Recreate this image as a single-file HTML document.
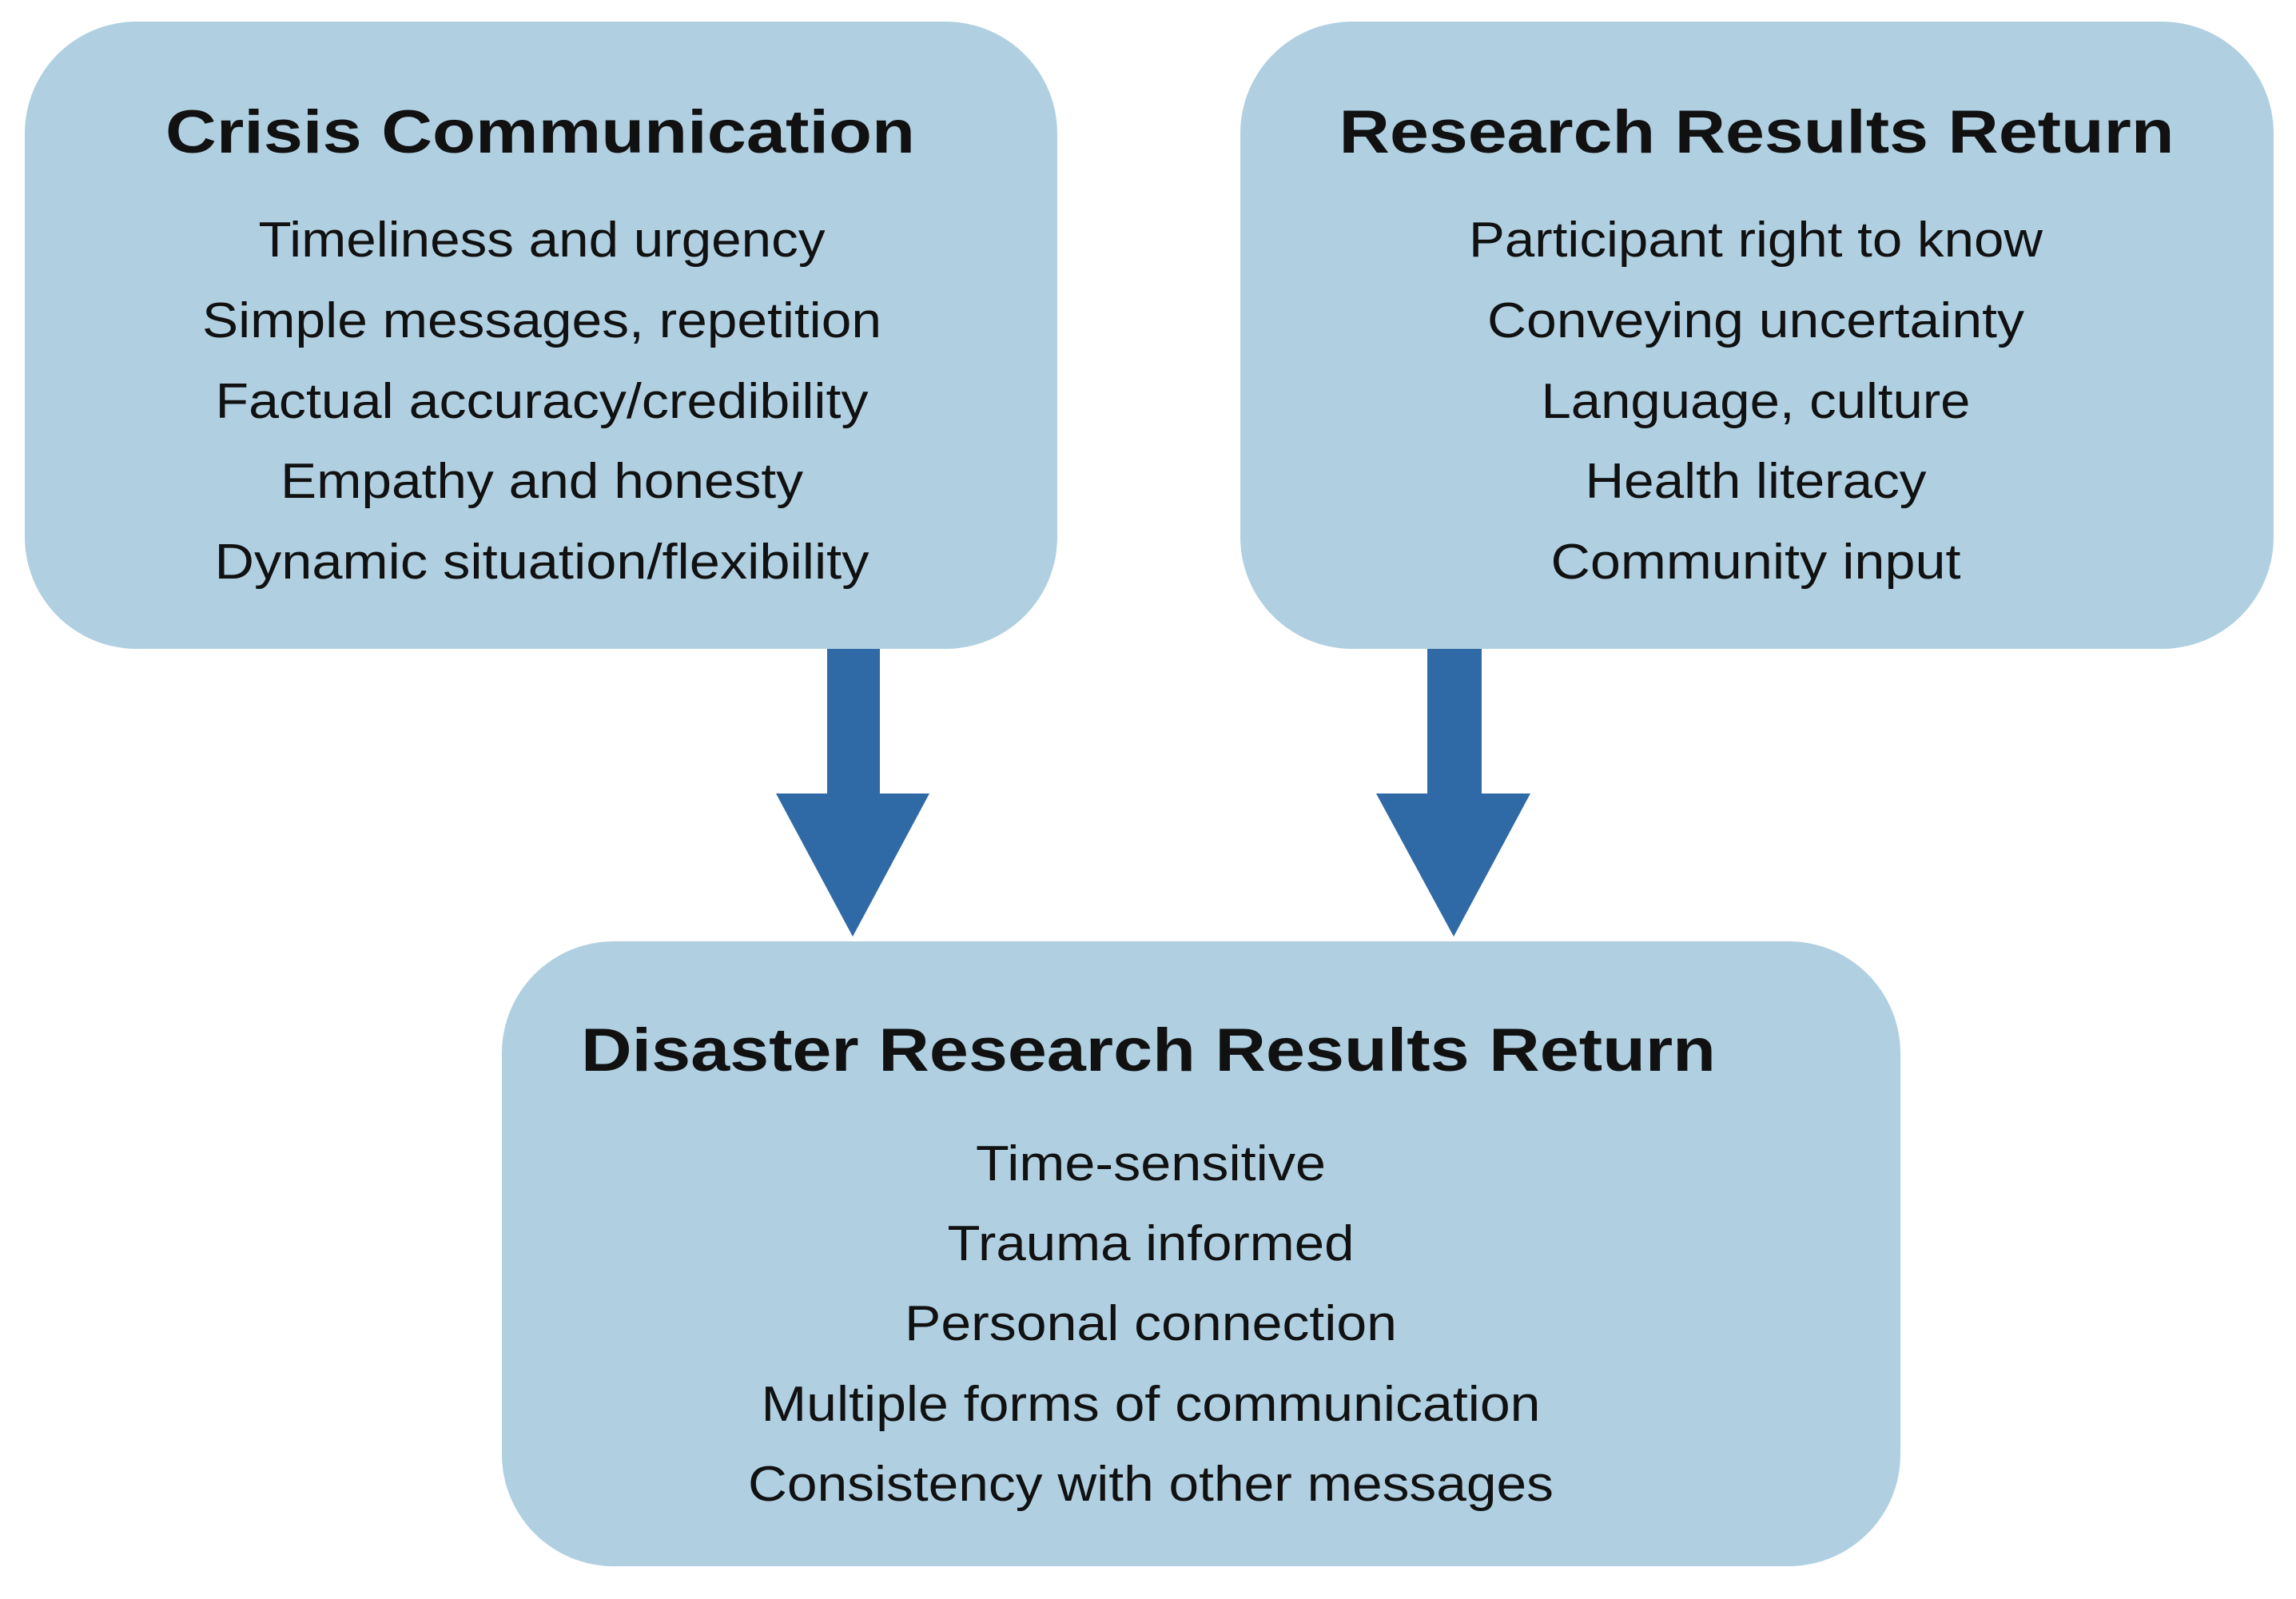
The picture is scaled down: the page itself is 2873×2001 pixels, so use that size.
<!DOCTYPE html>
<html><head><meta charset="utf-8"><style>
html,body{margin:0;padding:0;background:#fff;}
svg{display:block;}
text{font-family:"Liberation Sans",sans-serif;fill:#111;}
.t{font-weight:bold;font-size:76px;}
.b{font-size:62px;}
</style></head><body>
<svg width="2873" height="2001" viewBox="0 0 2873 2001" xmlns="http://www.w3.org/2000/svg">
<rect x="31" y="27" width="1292" height="785" rx="140" fill="#b0d0e2"/>
<rect x="1552" y="27" width="1293" height="785" rx="140" fill="#b0d0e2"/>
<rect x="628" y="1178" width="1750" height="782" rx="140" fill="#b0d0e2"/>
<g fill="#2f6aa6">
<rect x="1035" y="812" width="66" height="182"/>
<polygon points="971,993 1163,993 1067,1172"/>
<rect x="1786" y="812" width="68" height="182"/>
<polygon points="1722,993 1915,993 1819,1172"/>
</g>
<g text-anchor="middle">
<text class="t" x="676" y="191" textLength="938" lengthAdjust="spacingAndGlyphs">Crisis Communication</text>
<text class="b" x="678" y="321" textLength="709" lengthAdjust="spacingAndGlyphs">Timeliness and urgency</text>
<text class="b" x="678" y="422" textLength="850" lengthAdjust="spacingAndGlyphs">Simple messages, repetition</text>
<text class="b" x="678" y="523" textLength="817" lengthAdjust="spacingAndGlyphs">Factual accuracy/credibility</text>
<text class="b" x="678" y="623" textLength="654" lengthAdjust="spacingAndGlyphs">Empathy and honesty</text>
<text class="b" x="678" y="724" textLength="819" lengthAdjust="spacingAndGlyphs">Dynamic situation/flexibility</text>

<text class="t" x="2198" y="191" textLength="1045" lengthAdjust="spacingAndGlyphs">Research Results Return</text>
<text class="b" x="2197" y="321" textLength="718" lengthAdjust="spacingAndGlyphs">Participant right to know</text>
<text class="b" x="2197" y="422" textLength="672" lengthAdjust="spacingAndGlyphs">Conveying uncertainty</text>
<text class="b" x="2197" y="523" textLength="537" lengthAdjust="spacingAndGlyphs">Language, culture</text>
<text class="b" x="2197" y="623" textLength="427" lengthAdjust="spacingAndGlyphs">Health literacy</text>
<text class="b" x="2197" y="724" textLength="513" lengthAdjust="spacingAndGlyphs">Community input</text>

<text class="t" x="1437" y="1340" textLength="1420" lengthAdjust="spacingAndGlyphs">Disaster Research Results Return</text>
<text class="b" x="1440" y="1477" textLength="438" lengthAdjust="spacingAndGlyphs">Time-sensitive</text>
<text class="b" x="1440" y="1577" textLength="509" lengthAdjust="spacingAndGlyphs">Trauma informed</text>
<text class="b" x="1440" y="1677" textLength="616" lengthAdjust="spacingAndGlyphs">Personal connection</text>
<text class="b" x="1440" y="1778" textLength="975" lengthAdjust="spacingAndGlyphs">Multiple forms of communication</text>
<text class="b" x="1440" y="1878" textLength="1008" lengthAdjust="spacingAndGlyphs">Consistency with other messages</text>
</g>
</svg>
</body></html>
